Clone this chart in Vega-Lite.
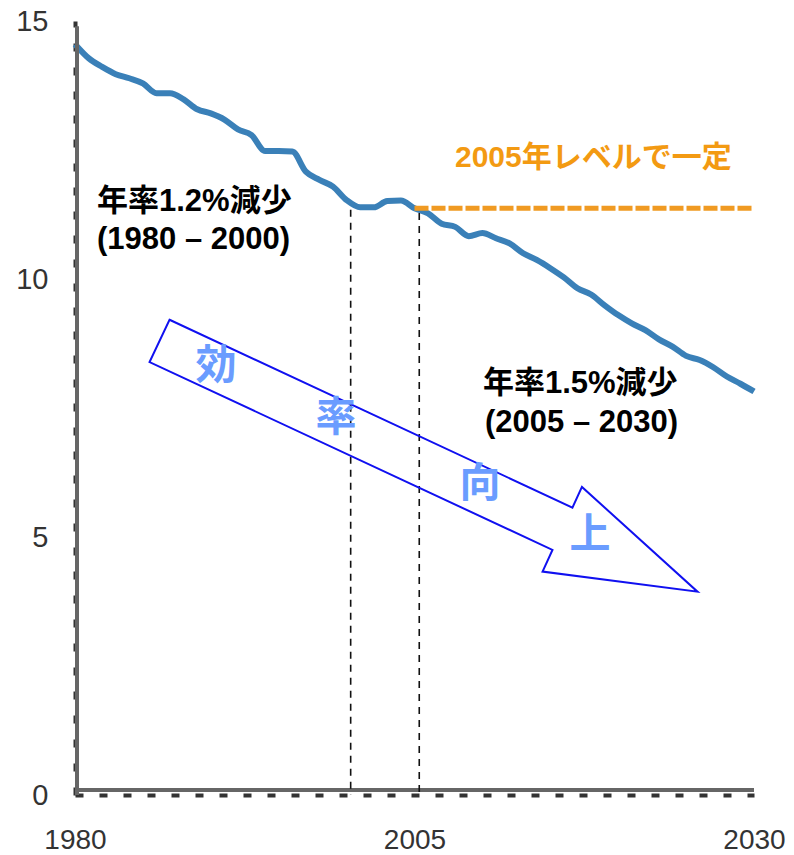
{
  "$schema": "https://vega.github.io/schema/vega-lite/v6.json",
  "width": 679,
  "height": 774,
  "autosize": {"type": "none"},
  "padding": {"left": 75, "top": 21, "right": 40, "bottom": 60},
  "background": "white",
  "config": {"view": {"stroke": null}, "font": "'Liberation Sans', 'Noto Sans CJK JP', sans-serif"},
  "datasets": {
    "series": [
      {"year": 1980, "value": 14.55}, {"year": 1981, "value": 14.28}, {"year": 1982, "value": 14.11},
      {"year": 1983, "value": 13.97}, {"year": 1984, "value": 13.89}, {"year": 1985, "value": 13.79},
      {"year": 1986, "value": 13.6}, {"year": 1987, "value": 13.6}, {"year": 1988, "value": 13.48},
      {"year": 1989, "value": 13.29}, {"year": 1990, "value": 13.21}, {"year": 1991, "value": 13.09},
      {"year": 1992, "value": 12.9}, {"year": 1993, "value": 12.79}, {"year": 1994, "value": 12.48},
      {"year": 1995, "value": 12.48}, {"year": 1996, "value": 12.47}, {"year": 1997, "value": 12.08},
      {"year": 1998, "value": 11.92}, {"year": 1999, "value": 11.79}, {"year": 2000, "value": 11.53},
      {"year": 2001, "value": 11.39}, {"year": 2002, "value": 11.39}, {"year": 2003, "value": 11.51},
      {"year": 2004, "value": 11.52}, {"year": 2005, "value": 11.37}, {"year": 2006, "value": 11.27},
      {"year": 2007, "value": 11.07}, {"year": 2008, "value": 11.01}, {"year": 2009, "value": 10.83},
      {"year": 2010, "value": 10.89}, {"year": 2011, "value": 10.79}, {"year": 2012, "value": 10.69},
      {"year": 2013, "value": 10.5}, {"year": 2014, "value": 10.37}, {"year": 2015, "value": 10.21},
      {"year": 2016, "value": 10.03}, {"year": 2017, "value": 9.82}, {"year": 2018, "value": 9.7},
      {"year": 2019, "value": 9.49}, {"year": 2020, "value": 9.3}, {"year": 2021, "value": 9.14},
      {"year": 2022, "value": 9.01}, {"year": 2023, "value": 8.83}, {"year": 2024, "value": 8.69},
      {"year": 2025, "value": 8.51}, {"year": 2026, "value": 8.43}, {"year": 2027, "value": 8.29},
      {"year": 2028, "value": 8.11}, {"year": 2029, "value": 7.97}, {"year": 2030, "value": 7.82}
    ],
    "flat": [{"year": 2005, "value": 11.37}, {"year": 2030, "value": 11.37}],
    "markers": [{"year": 2000.3, "value": 11.34}, {"year": 2005.35, "value": 11.28}],
    "frame": [{"x0": 1980, "x1": 2030, "y0": 0, "y1": 14.9}],
    "arrow": [
      {"i": 1, "year": 1986.96, "value": 9.21},
      {"i": 2, "year": 2016.63, "value": 5.57},
      {"i": 3, "year": 2017.33, "value": 5.97},
      {"i": 4, "year": 2025.84, "value": 3.94},
      {"i": 5, "year": 2014.43, "value": 4.33},
      {"i": 6, "year": 2015.16, "value": 4.75},
      {"i": 7, "year": 1985.49, "value": 8.39}
    ],
    "arrowText": [
      {"year": 1990.38, "value": 8.29, "label": "効"},
      {"year": 1999.22, "value": 7.29, "label": "率"},
      {"year": 2009.82, "value": 6.01, "label": "向"},
      {"year": 2017.92, "value": 5.02, "label": "上"}
    ],
    "notes": [
      {"year": 1981.62, "value": 11.5, "label": "年率1.2%減少"},
      {"year": 1981.62, "value": 10.76, "label": "(1980 – 2000)"},
      {"year": 2010.04, "value": 7.96, "label": "年率1.5%減少"},
      {"year": 2010.19, "value": 7.21, "label": "(2005 – 2030)"}
    ],
    "flatNote": [{"year": 2007.98, "value": 12.34, "label": "2005年レベルで一定"}]
  },
  "layer": [
    {
      "data": {"name": "series"},
      "mark": {"type": "line", "color": "#3A80B8", "strokeWidth": 6, "strokeCap": "butt", "strokeJoin": "round", "interpolate": "monotone"},
      "encoding": {
        "x": {"field": "year", "type": "quantitative",
          "scale": {"domain": [1980, 2030], "nice": false, "zero": false},
          "axis": {"values": [1980, 2005, 2030], "format": "d", "title": null, "grid": false, "ticks": false, "tickSize": 0,
            "labelFontSize": 28, "labelColor": "#333333", "labelFont": "Liberation Sans", "labelPadding": 31,
            "labelFlush": false, "labelOverlap": false,
            "domainColor": "#333333", "domainWidth": 4, "domainDash": [8, 16]}},
        "y": {"field": "value", "type": "quantitative",
          "scale": {"domain": [0, 15], "nice": false},
          "axis": {"values": [0, 5, 10, 15], "title": null, "grid": false, "ticks": false, "tickSize": 0,
            "labelFontSize": 29, "labelColor": "#333333", "labelFont": "Liberation Sans", "labelPadding": 27,
            "labelOverlap": false,
            "domainColor": "#333333", "domainWidth": 4, "domainDash": [8, 16]}}
      }
    },
    {
      "data": {"name": "frame"},
      "mark": {"type": "rule", "color": "#666666", "strokeWidth": 4, "xOffset": 2},
      "encoding": {
        "x": {"field": "x0", "type": "quantitative"},
        "y": {"field": "y0", "type": "quantitative"},
        "y2": {"field": "y1"}
      }
    },
    {
      "data": {"name": "frame"},
      "mark": {"type": "rule", "color": "#666666", "strokeWidth": 4, "yOffset": -5},
      "encoding": {
        "x": {"field": "x0", "type": "quantitative"},
        "x2": {"field": "x1"},
        "y": {"field": "y0", "type": "quantitative"}
      }
    },
    {
      "data": {"name": "markers"},
      "mark": {"type": "rule", "color": "#111111", "strokeWidth": 1.6, "strokeDash": [7, 6]},
      "encoding": {
        "x": {"field": "year", "type": "quantitative"},
        "y": {"field": "value", "type": "quantitative"},
        "y2": {"datum": 0}
      }
    },
    {
      "data": {"name": "flat"},
      "mark": {"type": "line", "color": "#F09A22", "strokeWidth": 5, "strokeDash": [14, 3]},
      "encoding": {
        "x": {"field": "year", "type": "quantitative"},
        "y": {"field": "value", "type": "quantitative"}
      }
    },
    {
      "data": {"name": "arrow"},
      "mark": {"type": "line", "interpolate": "linear-closed", "color": "#1010F0", "strokeWidth": 2, "fill": null},
      "encoding": {
        "x": {"field": "year", "type": "quantitative"},
        "y": {"field": "value", "type": "quantitative"},
        "order": {"field": "i", "type": "quantitative"}
      }
    },
    {
      "data": {"name": "arrowText"},
      "mark": {"type": "text", "fontSize": 41, "fontWeight": "bold", "color": "#6A9CFF", "align": "center", "baseline": "middle", "font": "'Noto Sans CJK JP', sans-serif"},
      "encoding": {
        "x": {"field": "year", "type": "quantitative"},
        "y": {"field": "value", "type": "quantitative"},
        "text": {"field": "label"}
      }
    },
    {
      "data": {"name": "notes"},
      "mark": {"type": "text", "fontSize": 31, "fontWeight": "bold", "color": "#000000", "align": "left", "baseline": "middle"},
      "encoding": {
        "x": {"field": "year", "type": "quantitative"},
        "y": {"field": "value", "type": "quantitative"},
        "text": {"field": "label"}
      }
    },
    {
      "data": {"name": "flatNote"},
      "mark": {"type": "text", "fontSize": 30, "fontWeight": "bold", "color": "#F39A12", "align": "left", "baseline": "middle"},
      "encoding": {
        "x": {"field": "year", "type": "quantitative"},
        "y": {"field": "value", "type": "quantitative"},
        "text": {"field": "label"}
      }
    }
  ]
}
